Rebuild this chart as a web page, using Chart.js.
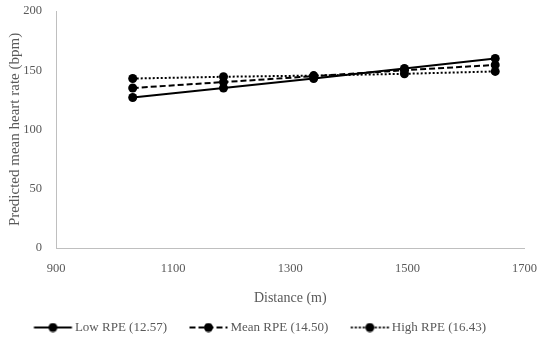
<!DOCTYPE html>
<html>
<head>
<meta charset="utf-8">
<script src="https://cdn.jsdelivr.net/npm/chart.js@4.4.1/dist/chart.umd.min.js"></script>
<style>
  html, body { margin: 0; padding: 0; background: #fff; }
  #wrap { width: 550px; height: 342px; position: relative; }
</style>
</head>
<body>
<div id="wrap"><canvas id="hrChart"></canvas></div>
<script>
// distances (m) and predicted mean heart rate (bpm)
const distances = [1031, 1186, 1340, 1495, 1650];
const lowRpe = [127, 135, 143, 151.5, 160];
const meanRpe = [135, 140, 145, 150, 154.5];
const highRpe = [143, 144.5, 145.5, 147, 149];
const seriesNames = ['Low RPE (12.57)', 'Mean RPE (14.50)', 'High RPE (16.43)'];
const xTicks = [900, 1100, 1300, 1500, 1700];
const yTicks = [0, 50, 100, 150, 200];

const dashes = [[], [6, 3], [2, 2]];
const fontFamily = '"Liberation Serif", "DejaVu Serif", serif';
const textColor = '#595959';

// line + dot swatch for the legend; wider than the 52px legend box so the
// line can sit right next to its label
function legendSwatch(dash) {
    const c = document.createElement('canvas');
    c.width = 72;
    c.height = 10;
    const g = c.getContext('2d');
    g.strokeStyle = '#000';
    g.lineWidth = 2;
    g.setLineDash(dash);
    g.beginPath();
    g.moveTo(27.5, 5);
    g.lineTo(65.5, 5);
    g.stroke();
    g.fillStyle = '#000';
    g.beginPath();
    g.arc(46.5, 5, 4.5, 0, Math.PI * 2);
    g.fill();
    return c;
}

function toPoints(ys) {
    return distances.map((d, i) => ({ x: d, y: ys[i] }));
}

const allSeries = [lowRpe, meanRpe, highRpe];

new Chart(document.getElementById('hrChart').getContext('2d'), {
    type: 'scatter',
    data: {
        datasets: allSeries.map((ys, i) => ({
            label: seriesNames[i],
            data: toPoints(ys),
            showLine: true,
            borderColor: '#000',
            backgroundColor: '#000',
            borderWidth: 2,
            borderDash: dashes[i],
            pointRadius: 4.5,
            pointBorderWidth: 0,
            pointStyle: 'circle',
            tension: 0
        }))
    },
    options: {
        responsive: true,
        maintainAspectRatio: false,
        animation: false,
        layout: { padding: { top: 0, right: 17, left: 2, bottom: -2 } },
        plugins: {
            tooltip: { enabled: false },
            legend: {
                position: 'bottom',
                labels: {
                    usePointStyle: true,
                    boxWidth: 52,
                    boxHeight: 10,
                    pointStyleWidth: 52,
                    color: textColor,
                    font: { family: fontFamily, size: 13 },
                    padding: 5,
                    generateLabels: (chart) => chart.data.datasets.map((ds, i) => ({
                        // trailing spaces on the last label nudge the centred row left
                        text: i === 2 ? ds.label + '\u00a0'.repeat(10) : ds.label,
                        pointStyle: legendSwatch(dashes[i]),
                        fontColor: textColor,
                        lineWidth: 0,
                        datasetIndex: i
                    }))
                }
            }
        },
        scales: {
            x: {
                type: 'linear',
                min: 900,
                max: 1700,
                afterBuildTicks: (s) => { s.ticks = xTicks.map(v => ({ value: v })); },
                grid: { display: false, drawTicks: false },
                border: { color: '#bfbfbf', width: 1 },
                ticks: { color: textColor, font: { family: fontFamily, size: 12.5 }, padding: 13, callback: (v) => String(v) },
                title: { display: true, text: 'Distance (m)', color: textColor, font: { family: fontFamily, size: 14 }, padding: { top: 4, bottom: 9 } },
                afterFit: (s) => { s.height = 68; }
            },
            y: {
                min: 0,
                max: 200,
                afterBuildTicks: (s) => { s.ticks = yTicks.map(v => ({ value: v })); },
                grid: { display: false, drawTicks: false },
                border: { color: '#bfbfbf', width: 1 },
                ticks: { color: textColor, font: { family: fontFamily, size: 12.5 }, padding: 14 },
                title: { display: true, text: 'Predicted mean heart rate (bpm)', color: textColor, font: { family: fontFamily, size: 15 }, padding: { bottom: 4 } },
                afterFit: (s) => {
                    s.width = 54;
                    // keep the 200 tick near the top edge, as in the figure
                    s.paddingTop = 11;
                    s.paddingBottom = 8;
                }
            }
        }
    }
});
</script>
</body>
</html>
